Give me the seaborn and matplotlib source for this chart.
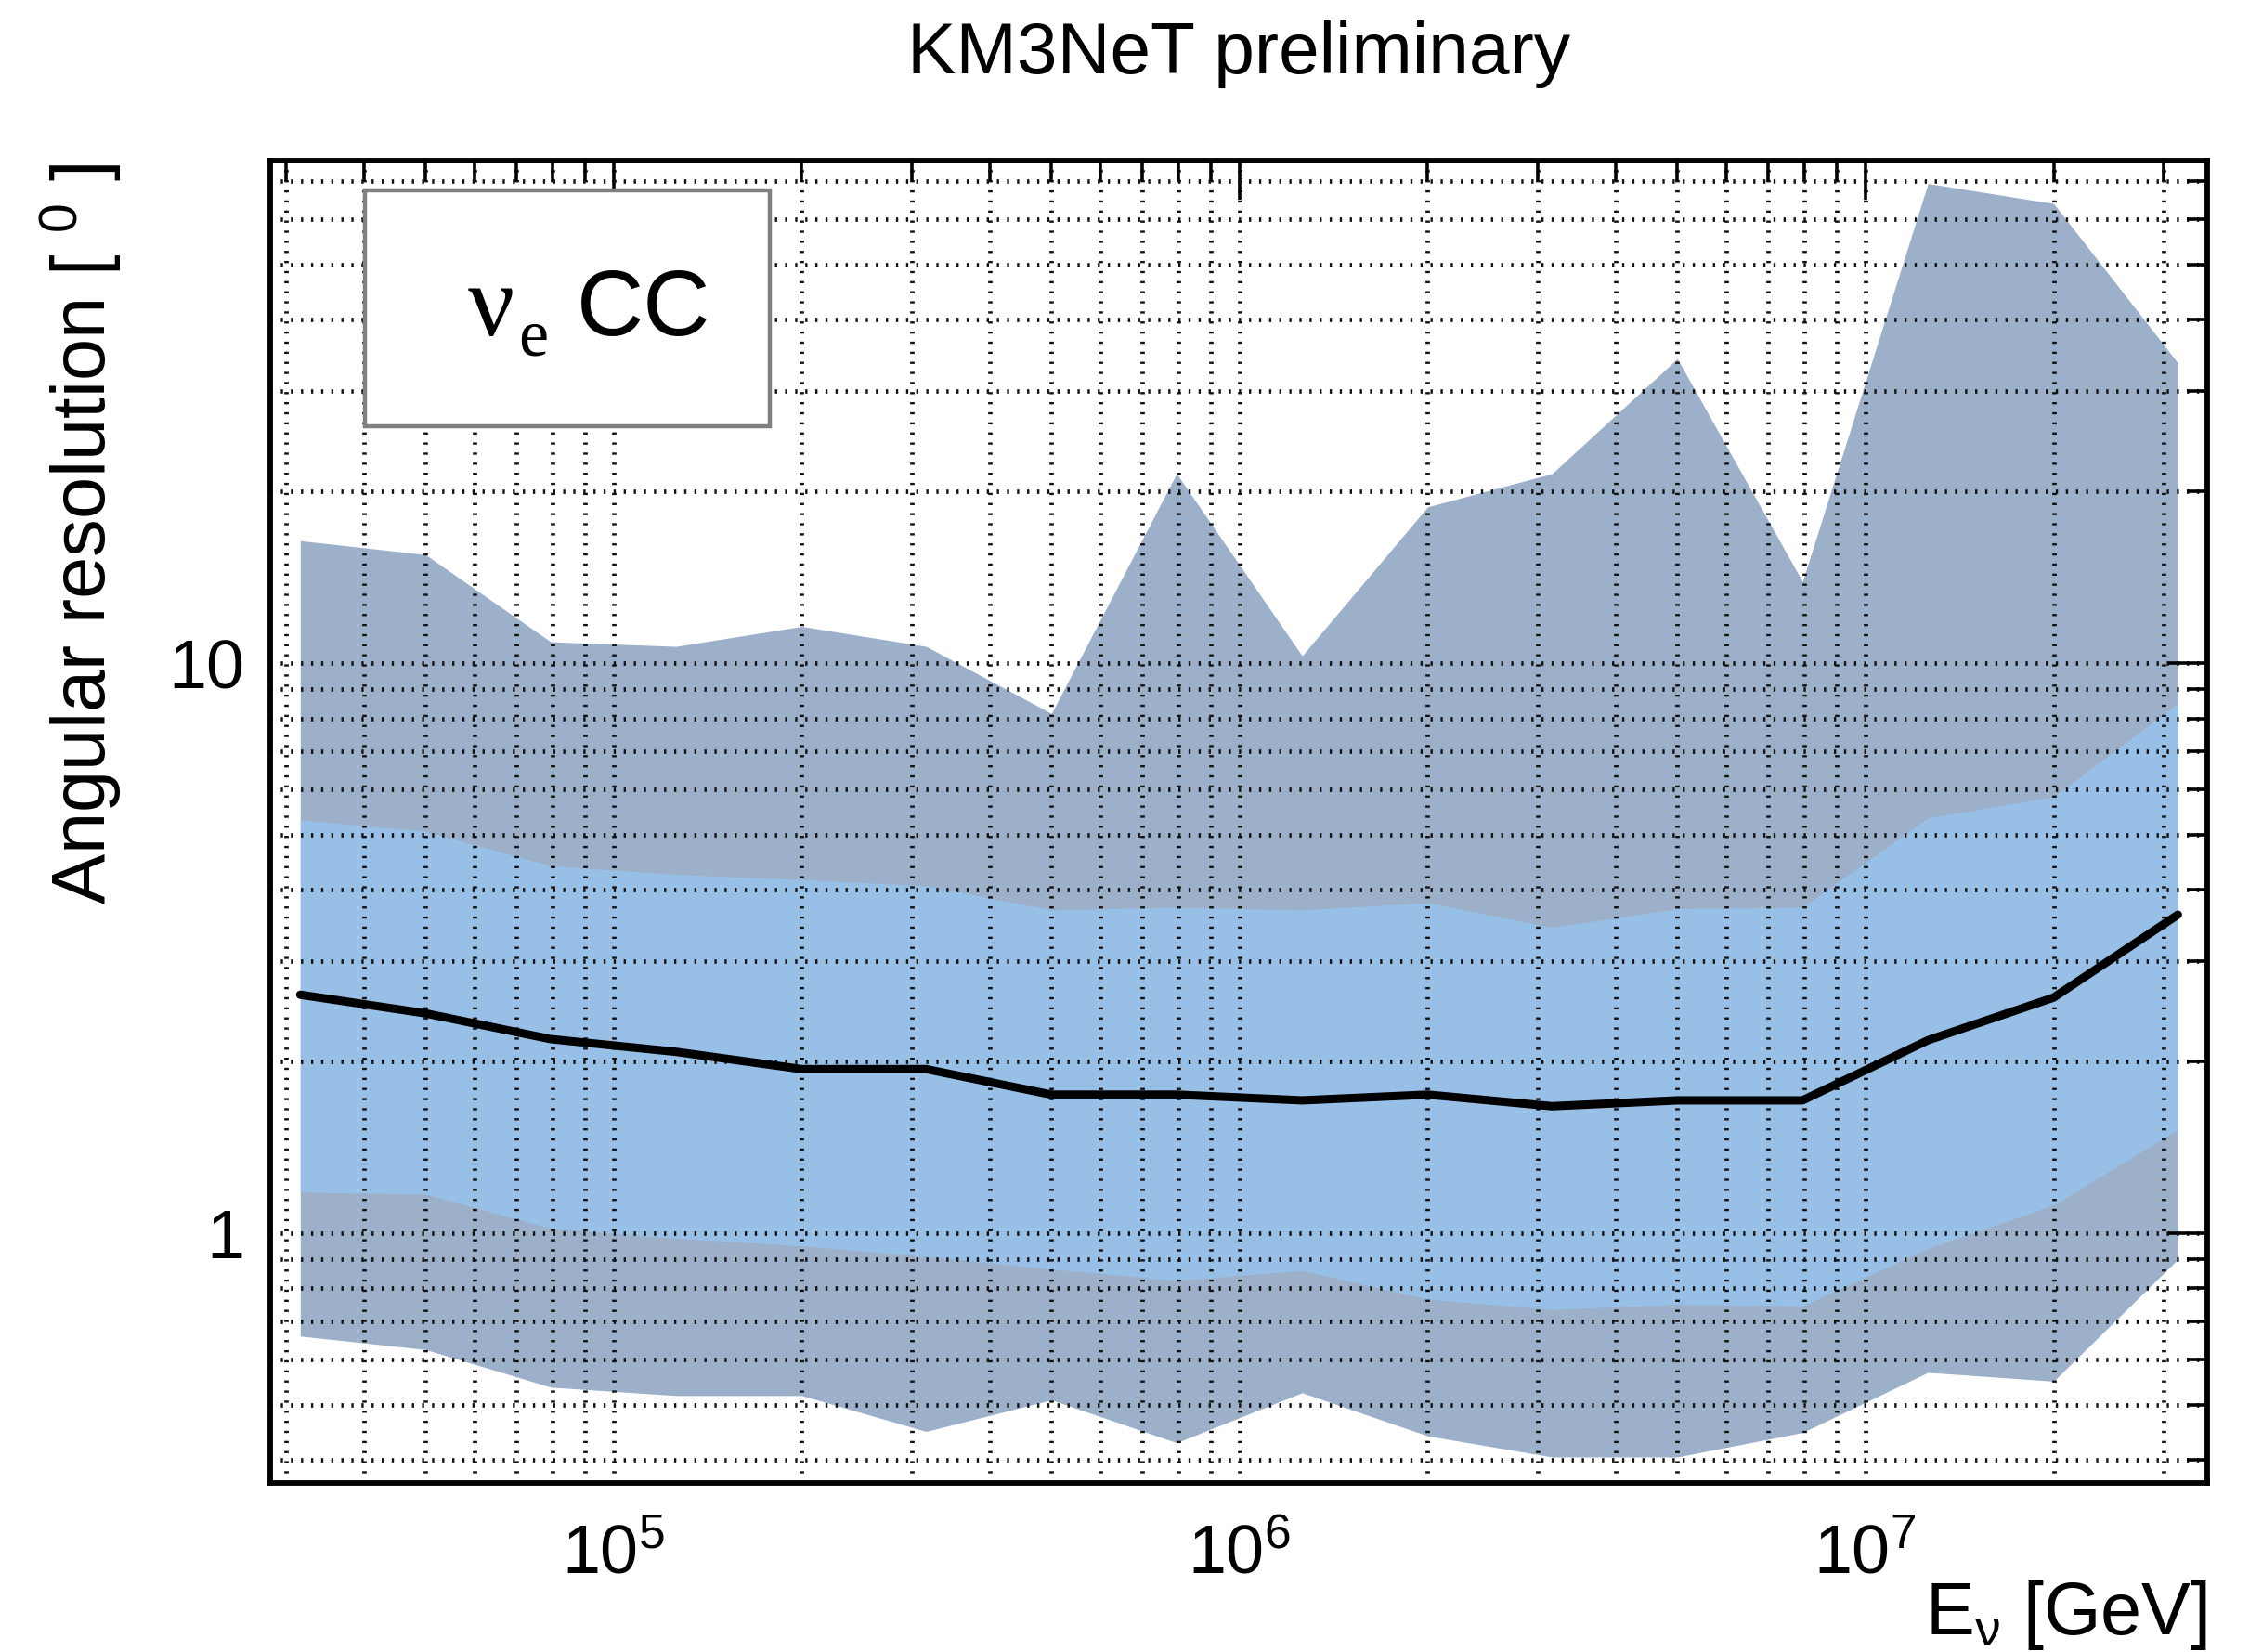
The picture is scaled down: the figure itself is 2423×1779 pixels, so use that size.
import matplotlib
matplotlib.use("Agg")
import matplotlib.pyplot as plt
import numpy as np
import pandas as pd
import seaborn as sns
from matplotlib.ticker import LogLocator, NullFormatter, FixedLocator, FixedFormatter
from matplotlib.patches import Rectangle

# ---------------- data ----------------
energy_gev = [3.16e4, 5.01e4, 7.94e4, 1.26e5, 2.00e5, 3.16e5, 5.01e5, 7.94e5,
              1.26e6, 2.00e6, 3.16e6, 5.01e6, 7.94e6, 1.26e7, 2.00e7, 3.16e7]
median_deg = [2.62, 2.43, 2.19, 2.08, 1.94, 1.94, 1.75, 1.75,
              1.71, 1.75, 1.67, 1.71, 1.71, 2.18, 2.59, 3.62]
inner_hi = [5.31, 5.07, 4.41, 4.26, 4.17, 4.07, 3.69, 3.73,
            3.69, 3.80, 3.44, 3.71, 3.73, 5.35, 5.83, 8.5]
inner_lo = [1.18, 1.17, 1.02, 0.98, 0.95, 0.91, 0.865, 0.826,
            0.86, 0.766, 0.735, 0.75, 0.745, 0.94, 1.12, 1.52]
outer_hi = [16.4, 15.5, 10.9, 10.7, 11.6, 10.7, 8.16, 21.5,
            10.3, 18.8, 21.5, 34.2, 13.9, 69.4, 64.0, 33.6]
outer_lo = [0.66, 0.625, 0.537, 0.519, 0.519, 0.449, 0.51, 0.429,
            0.525, 0.441, 0.405, 0.405, 0.447, 0.57, 0.55, 0.90]

x_major_ticks = [1e5, 1e6, 1e7]
x_major_labels = [r"$\mathregular{10^{5}}$", r"$\mathregular{10^{6}}$", r"$\mathregular{10^{7}}$"]
y_major_ticks = [1, 10]
y_major_labels = ["1", "10"]

df = pd.DataFrame({"energy": energy_gev, "median": median_deg})

# ---------------- style ----------------
sns.set_theme(style="white")
plt.rcParams["font.family"] = ["Liberation Sans", "DejaVu Sans"]
plt.rcParams["mathtext.fontset"] = "custom"
plt.rcParams["mathtext.rm"] = "Liberation Sans"
plt.rcParams["mathtext.it"] = "Liberation Sans:italic"
for k in ["text.color", "axes.labelcolor", "xtick.color", "ytick.color"]:
    plt.rcParams[k] = "black"

W, H = 2423, 1779
fig = plt.figure(figsize=(W / 100, H / 100), dpi=100)
ax_l, ax_r, ax_t, ax_b = 291, 2377, 173, 1597
ax = fig.add_axes([ax_l / W, 1 - ax_b / H, (ax_r - ax_l) / W, (ax_b - ax_t) / H])
ax.set_facecolor("white")

dark = "#9cb0ca"
light = "#98bfe6"
ax.fill_between(energy_gev, outer_lo, outer_hi, color=dark, lw=0, zorder=1)
ax.fill_between(energy_gev, inner_lo, inner_hi, color=light, lw=0, zorder=1.1)
sns.lineplot(data=df, x="energy", y="median", ax=ax, color="black", lw=6.5, zorder=3,
             legend=False)

ax.set_xscale("log")
ax.set_yscale("log")
ax.set_xlim(2.83e4, 3.52e7)
ax.set_ylim(0.3646, 76.1)

ax.xaxis.set_major_locator(FixedLocator(x_major_ticks))
ax.xaxis.set_major_formatter(FixedFormatter(x_major_labels))
ax.xaxis.set_minor_locator(LogLocator(base=10, subs=np.arange(2, 10)))
ax.xaxis.set_minor_formatter(NullFormatter())
ax.yaxis.set_major_locator(FixedLocator(y_major_ticks))
ax.yaxis.set_major_formatter(FixedFormatter(y_major_labels))
ax.yaxis.set_minor_locator(LogLocator(base=10, subs=np.arange(2, 10)))
ax.yaxis.set_minor_formatter(NullFormatter())

ax.set_axisbelow(False)
ax.grid(which="both", color="#111111", linestyle=(0, (0.5, 1.8)), linewidth=3.4)

ax.tick_params(which="both", direction="in", top=True, right=True, colors="black",
               width=2.6)
ax.tick_params(which="major", length=30, labelsize=53)
ax.tick_params(which="minor", length=16)
ax.tick_params(axis="x", which="major", pad=31)
ax.tick_params(axis="y", which="major", pad=20)
for s in ax.spines.values():
    s.set_color("black")
    s.set_linewidth(4.2)
    s.set_zorder(6)
ax.set_xlabel("")
ax.set_ylabel("")

# legend-like box
ax.add_patch(Rectangle((0.049, 0.799), 0.209, 0.1785, transform=ax.transAxes,
                       facecolor="white", edgecolor="#808080", lw=3.2, zorder=5))
ax.text(0.102, 0.868, "ν", transform=ax.transAxes, fontsize=80,
        family=["Liberation Serif", "DejaVu Serif"], va="baseline", ha="left", zorder=7)
ax.text(0.128, 0.853, "e", transform=ax.transAxes, fontsize=52,
        family=["Liberation Serif", "DejaVu Serif"], va="baseline", ha="left", zorder=7)
ax.text(0.158, 0.868, "CC", transform=ax.transAxes, fontsize=72,
        va="baseline", ha="left", zorder=7)

# title and axis labels
fig.text(1334 / W, 1 - 79 / H, "KM3NeT preliminary", fontsize=56.5,
         ha="center", va="baseline")
fig.text(88 / W, 1 - 176 / H, r"Angular resolution [ $\mathregular{^{0}}$ ]",
         fontsize=58.5, rotation=90, ha="center", va="top")
fig.text(2377 / W, 1 - 1760 / H, r"E$_{\mathregular{\nu}}$ [GeV]", fontsize=57,
         ha="right", va="baseline")

fig.savefig("out.png", dpi=100)
